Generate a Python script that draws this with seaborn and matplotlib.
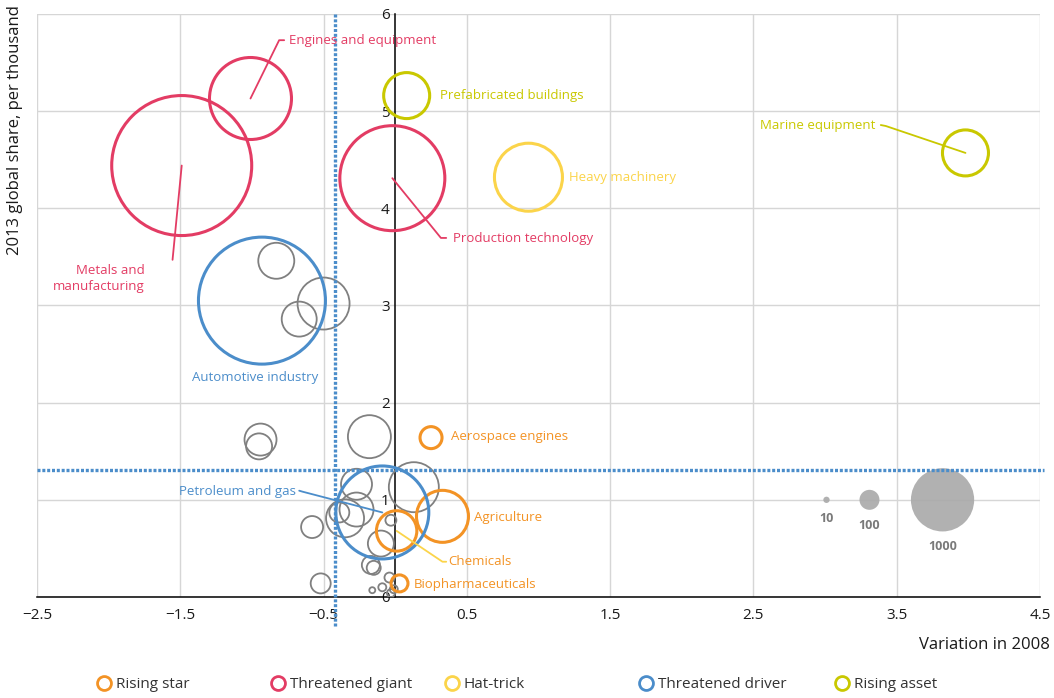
import numpy as np
import pandas as pd
import seaborn as sns
import matplotlib.pyplot as plt
from matplotlib.lines import Line2D

# sectores con nombre
sectores = ['Engines and equipment', 'Metals and manufacturing', 'Production technology',
            'Prefabricated buildings', 'Marine equipment', 'Heavy machinery',
            'Automotive industry', 'Petroleum and gas',
            'Aerospace engines', 'Agriculture', 'Chemicals', 'Biopharmaceuticals']
grupos = ['Threatened giant'] * 3 + ['Rising asset'] * 2 + ['Hat-trick'] + \
         ['Threatened driver'] * 2 + ['Rising star'] * 4
var_2008 = [-1.01, -1.49, -0.02, 0.08, 3.98, 0.93, -0.93, -0.09, 0.25, 0.33, 0.01, 0.03]
share_2013 = [5.13, 4.44, 4.31, 5.16, 4.57, 4.32, 3.05, 0.87, 1.64, 0.83, 0.68, 0.14]
tamano = [1681, 4900, 2756, 529, 529, 1156, 4032, 2162, 121, 676, 408, 72]

# resto de sectores (gris)
gris_x = [-0.83, -0.50, -0.67, -0.94, -0.95, -0.18, 0.13, -0.27, -0.35, -0.39, -0.58,
          -0.27, -0.03, -0.10, -0.17, -0.15, -0.52, -0.16, -0.09, -0.04, -0.03, -0.01]
gris_y = [3.46, 3.02, 2.86, 1.62, 1.55, 1.65, 1.13, 1.16, 0.81, 0.87, 0.72,
          0.90, 0.79, 0.55, 0.33, 0.30, 0.14, 0.07, 0.10, 0.20, 0.04, 0.08]
gris_tam = [324, 676, 306, 256, 169, 462, 625, 240, 361, 100, 121,
            289, 30, 169, 81, 49, 100, 9, 16, 25, 16, 16]

# leyenda de tamanos
ley_tam = [10, 100, 1000]
ley_x = [3.01, 3.31, 3.82]
ley_y = [1.0, 1.0, 1.0]

# umbrales (lineas punteadas)
umbral_x = -0.42
umbral_y = 1.31

orden = ['Rising star', 'Threatened giant', 'Hat-trick', 'Threatened driver', 'Rising asset']
colores = {'Rising star': '#f39325', 'Threatened giant': '#e33c64', 'Hat-trick': '#fbd44a',
           'Threatened driver': '#4b8dca', 'Rising asset': '#c9c800'}
gris = '#808080'

df = pd.DataFrame({'sector': sectores, 'grupo': grupos, 'x': var_2008,
                   'y': share_2013, 'tam': tamano})
df_gris = pd.DataFrame({'x': gris_x, 'y': gris_y, 'tam': gris_tam})
df_ley = pd.DataFrame({'x': ley_x, 'y': ley_y, 'tam': ley_tam})

sns.set_style('white')
plt.rcParams['font.family'] = ['Open Sans', 'DejaVu Sans']

fig = plt.figure(figsize=(10.54, 6.98), dpi=100)
ax = fig.add_axes([0.0351, 0.1447, 0.9516, 0.8353])

# escala: area proporcional al valor (s_ref = area en pt^2 para 1000)
s_ref = 2073.6
tope = 6000
kw_tam = dict(size='tam', sizes=(0, s_ref * tope / 1000), size_norm=(0, tope), legend=False)

sns.scatterplot(data=df_gris, x='x', y='y', ax=ax, color=gris, facecolor='none',
                edgecolor=gris, linewidth=1.3, zorder=3, **kw_tam)

sns.scatterplot(data=df_ley, x='x', y='y', ax=ax, color='#a9a9a9', edgecolor='none',
                alpha=0.9, zorder=3, **kw_tam)

for g in orden:
    sub = df[df['grupo'] == g]
    sns.scatterplot(data=sub, x='x', y='y', ax=ax, color=colores[g], facecolor='none',
                    edgecolor=colores[g], linewidth=2.2, zorder=4, **kw_tam)

# lineas umbral
azul = colores['Threatened driver']
ax.plot([umbral_x, umbral_x], [6, -0.3], color=azul, lw=2.4, ls=(0, (0.9, 0.55)),
        clip_on=False, zorder=5)
ax.plot([-2.5, 4.53], [umbral_y, umbral_y], color=azul, lw=2.4, ls=(0, (0.9, 0.55)),
        clip_on=False, zorder=5)

# etiquetas
etiquetas = {
    'Engines and equipment': dict(pos=(-0.74, 5.73), ha='left', guia=[(-0.81, 5.73), (-0.775, 5.73)]),
    'Metals and manufacturing': dict(pos=(-1.75, 3.28), ha='right', guia=[(-1.554, 3.47)],
                                     texto='Metals and\nmanufacturing'),
    'Production technology': dict(pos=(0.40, 3.69), ha='left', guia=[(0.319, 3.695), (0.356, 3.695)]),
    'Prefabricated buildings': dict(pos=(0.31, 5.16), ha='left'),
    'Marine equipment': dict(pos=(3.35, 4.85), ha='right', guia=[(3.424, 4.847), (3.389, 4.857)]),
    'Heavy machinery': dict(pos=(1.21, 4.32), ha='left'),
    'Automotive industry': dict(pos=(-0.98, 2.26), ha='center'),
    'Petroleum and gas': dict(pos=(-0.69, 1.09), ha='right', guia=[(-0.647, 1.084), (-0.67, 1.094)]),
    'Aerospace engines': dict(pos=(0.39, 1.65), ha='left'),
    'Agriculture': dict(pos=(0.55, 0.82), ha='left'),
    'Chemicals': dict(pos=(0.37, 0.37), ha='left', guia=[(0.33, 0.363), (0.356, 0.363)],
                      color_guia=colores['Hat-trick']),
    'Biopharmaceuticals': dict(pos=(0.13, 0.13), ha='left'),
}

for _, fila in df.iterrows():
    e = etiquetas[fila['sector']]
    c = colores[fila['grupo']]
    if 'guia' in e:
        px = [fila['x']] + [p[0] for p in e['guia']]
        py = [fila['y']] + [p[1] for p in e['guia']]
        ax.plot(px, py, color=e.get('color_guia', c), lw=1.3, zorder=6)
    ax.text(e['pos'][0], e['pos'][1], e.get('texto', fila['sector']), color=c,
            ha=e['ha'], va='center', fontsize=9.5, linespacing=1.25, zorder=6,
            multialignment='right' if e['ha'] == 'right' else 'left')

# textos leyenda de tamanos
for tx, tv, dy in zip(ley_x, ley_tam, [-0.19, -0.26, -0.48]):
    ax.text(tx, 1.0 + dy, str(tv), color='#7a7a7a', fontsize=9, fontweight='bold',
            ha='center', va='center')

# ejes
ax.set_xlim(-2.5, 4.5)
ax.set_ylim(0, 6)
ax.set_xticks([-2.5, -1.5, -0.5, 0.5, 1.5, 2.5, 3.5, 4.5])
ax.set_yticks(range(7))
ax.grid(True, color='#d6d6d6', lw=1)
ax.set_axisbelow(True)
for s in ['top', 'right']:
    ax.spines[s].set_visible(False)
ax.spines['left'].set_position(('data', 0))
ax.spines['left'].set_color('black')
ax.spines['left'].set_linewidth(1.1)
ax.spines['left'].set_zorder(2.5)
ax.spines['bottom'].set_color('black')
ax.spines['bottom'].set_linewidth(1.1)
ax.tick_params(axis='both', length=0, labelsize=11, colors='#1a1a1a')
ax.tick_params(axis='x', pad=8)
ax.tick_params(axis='y', pad=4)
ax.set_xlabel('')
ax.set_ylabel('')

fig.text(1050 / 1054, 1 - 645 / 698, 'Variation in 2008', ha='right', va='center',
         fontsize=12, color='#1a1a1a')
fig.text(15 / 1054, 1 - 5 / 698, '2013 global share, per thousand', rotation=90,
         ha='center', va='top', fontsize=12, color='#1a1a1a')

# leyenda de grupos (una entrada por posicion, como en el original)
pos_ley = [96, 270, 444, 638, 834]
for g, px_ley in zip(orden, pos_ley):
    h = Line2D([], [], ls='none', marker='o', markersize=10, markerfacecolor='none',
               markeredgecolor=colores[g], markeredgewidth=2)
    fig.legend([h], [g], loc='center left', bbox_to_anchor=(px_ley / 1054, 1 - 685 / 698),
               frameon=False, handlelength=1, handletextpad=0.3, borderpad=0,
               borderaxespad=0, fontsize=11, labelcolor='#333333')

fig.savefig('out.png', dpi=100)
